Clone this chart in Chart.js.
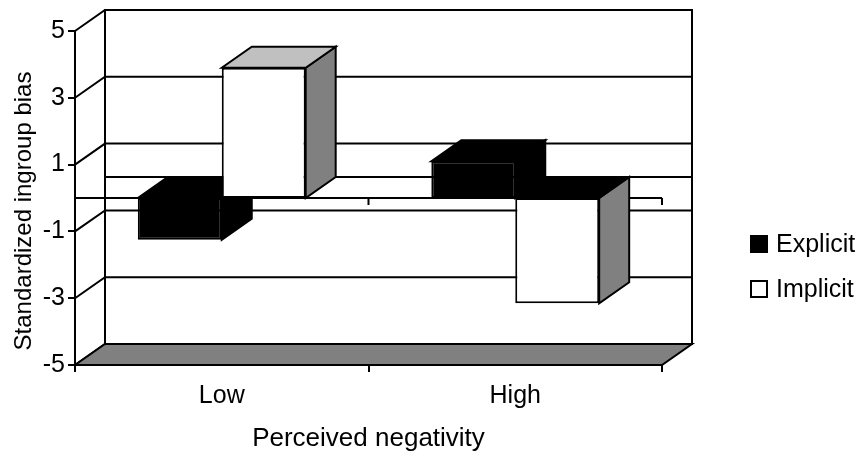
<!DOCTYPE html>
<html>
<head>
<meta charset="utf-8">
<script src="https://cdn.jsdelivr.net/npm/chart.js@4.4.1/dist/chart.umd.min.js"></script>
<style>
html, body { margin: 0; padding: 0; background: #fff; }
#wrap { position: relative; width: 861px; height: 454px; }
#legend { position: absolute; left: 750px; top: 221px; font-family: 'Liberation Sans', Arial, sans-serif; font-size: 25px; color: #000; }
#legend .row { display: flex; align-items: center; height: 45px; }
#legend .box { width: 14px; height: 14px; border: 2px solid #000; margin-right: 8px; }
</style>
</head>
<body>
<div id="wrap">
  <canvas id="myChart" width="861" height="454"></canvas>
  <div id="legend"></div>
</div>
<script>
// data
const categories = ['Low', 'High'];
const explicitBias = [-1.25, 1.1];
const implicitBias = [3.9, -3.15];
const seriesNames = ['Explicit', 'Implicit'];

const yMin = -5, yMax = 5, yStep = 2;

const fontFamily = "'Liberation Sans', Arial, sans-serif";
const DX = 30, DY = 21; // 3d depth offset

// back wall, floor, side gridlines
const walls3d = {
  id: 'walls3d',
  beforeDraw(chart) {
    const ctx = chart.ctx, a = chart.chartArea, y = chart.scales.y;
    const yBottom = y.getPixelForValue(yMin), yTop = y.getPixelForValue(yMax);
    ctx.save();
    ctx.lineWidth = 2;
    ctx.strokeStyle = '#000';
    // back wall
    ctx.strokeRect(a.left + DX, yTop - DY, a.right - a.left, yBottom - yTop);
    // gridlines on back wall + diagonals on the side
    const lines = y.ticks.map(t => t.value).concat([0]);
    lines.forEach(v => {
      const py = y.getPixelForValue(v);
      ctx.beginPath();
      if (v !== 0) {
        ctx.moveTo(a.left, py);
        ctx.lineTo(a.left + DX, py - DY);
      } else {
        ctx.moveTo(a.left + DX, py - DY);
      }
      ctx.lineTo(a.right + DX, py - DY);
      ctx.stroke();
    });
    // floor
    ctx.beginPath();
    ctx.moveTo(a.left, yBottom);
    ctx.lineTo(a.right, yBottom);
    ctx.lineTo(a.right + DX, yBottom - DY);
    ctx.lineTo(a.left + DX, yBottom - DY);
    ctx.closePath();
    ctx.fillStyle = '#808080';
    ctx.fill();
    ctx.stroke();
    ctx.restore();
  },
  afterDraw(chart) {
    // y axis title
    const ctx = chart.ctx, y = chart.scales.y;
    ctx.save();
    ctx.translate(24, (y.getPixelForValue(yMax) + y.getPixelForValue(yMin)) / 2 + 13);
    ctx.rotate(-Math.PI / 2);
    ctx.font = '24px ' + fontFamily;
    ctx.fillStyle = '#000';
    ctx.textAlign = 'center';
    ctx.textBaseline = 'middle';
    ctx.fillText('Standardized ingroup bias', 0, 0);
    ctx.restore();
  }
};

function poly(ctx, pts, fill) {
  ctx.beginPath();
  ctx.moveTo(pts[0][0], pts[0][1]);
  for (let i = 1; i < pts.length; i++) ctx.lineTo(pts[i][0], pts[i][1]);
  ctx.closePath();
  ctx.fillStyle = fill;
  ctx.fill();
  ctx.stroke();
}

// zero line + side and top faces of the columns
const bars3d = {
  id: 'bars3d',
  beforeDatasetsDraw(chart) {
    const ctx = chart.ctx, a = chart.chartArea, x = chart.scales.x, y = chart.scales.y;
    const y0 = y.getPixelForValue(0);
    ctx.save();
    ctx.lineWidth = 2;
    ctx.strokeStyle = '#000';
    ctx.beginPath();
    ctx.moveTo(a.left, y0);
    ctx.lineTo(a.right, y0);
    for (let i = 0; i < categories.length; i++) {
      const tx = i < categories.length - 1
        ? (x.getPixelForValue(i) + x.getPixelForValue(i + 1)) / 2
        : a.right;
      ctx.moveTo(tx, y0);
      ctx.lineTo(tx, y0 + 7);
    }
    ctx.stroke();

    for (let i = 0; i < categories.length; i++) {
      chart.data.datasets.forEach((ds, d) => {
        const el = chart.getDatasetMeta(d).data[i];
        const p = el.getProps(['x', 'y', 'base', 'width'], true);
        const l = p.x - p.width / 2, r = p.x + p.width / 2;
        const top = Math.min(p.y, p.base), bot = Math.max(p.y, p.base);
        poly(ctx, [[r, top], [r + DX, top - DY], [r + DX, bot - DY], [r, bot]], ds.sideColor);
        const capColor = p.y <= p.base ? ds.topColor : ds.capColor;
        poly(ctx, [[l, top], [l + DX, top - DY], [r + DX, top - DY], [r, top]], capColor);
      });
    }
    ctx.restore();
  }
};

const data = {
  labels: categories,
  datasets: [{
    label: seriesNames[0],
    data: explicitBias,
    backgroundColor: '#000',
    sideColor: '#000',
    topColor: '#000',
    capColor: '#000',
    borderColor: '#000',
    borderWidth: 2,
    borderSkipped: false
  }, {
    label: seriesNames[1],
    data: implicitBias,
    backgroundColor: '#fff',
    sideColor: '#808080',
    topColor: '#c0c0c0',
    capColor: '#000',
    borderColor: '#000',
    borderWidth: 2,
    borderSkipped: false
  }]
};

const config = {
  type: 'bar',
  data: data,
  plugins: [walls3d, bars3d],
  options: {
    responsive: false,
    animation: false,
    events: [],
    layout: { padding: { top: 31, right: 199, left: 0, bottom: 0 } },
    datasets: { bar: { barPercentage: 1, categoryPercentage: 0.572 } },
    scales: {
      x: {
        afterFit(scale) { scale.height = 89; },
        grid: { drawOnChartArea: false, color: '#000', lineWidth: 2, tickLength: 7, offset: true },
        border: { display: true, color: '#000', width: 2 },
        ticks: { color: '#000', padding: 9, font: { family: fontFamily, size: 25 } },
        title: {
          display: true,
          text: 'Perceived negativity',
          color: '#000',
          padding: { top: 0, bottom: 0 },
          font: { family: fontFamily, size: 26 }
        }
      },
      y: {
        min: yMin,
        max: yMax,
        afterFit(scale) { scale.width = 75; },
        grid: { drawOnChartArea: false, color: '#000', lineWidth: 2, tickLength: 7 },
        border: { display: true, color: '#000', width: 2 },
        ticks: { stepSize: yStep, color: '#000', padding: 3, font: { family: fontFamily, size: 25 } }
      }
    },
    plugins: {
      legend: { display: false },
      tooltip: { enabled: false }
    }
  }
};

function start() {
  const ctx = document.getElementById('myChart').getContext('2d');
  const chart = new Chart(ctx, config);

  // legend
  const legend = document.getElementById('legend');
  chart.data.datasets.forEach(ds => {
    const row = document.createElement('div');
    row.className = 'row';
    const box = document.createElement('div');
    box.className = 'box';
    box.style.background = ds.backgroundColor;
    const txt = document.createElement('span');
    txt.textContent = ds.label;
    row.appendChild(box);
    row.appendChild(txt);
    legend.appendChild(row);
  });
}

window.onload = start;
</script>
</body>
</html>
